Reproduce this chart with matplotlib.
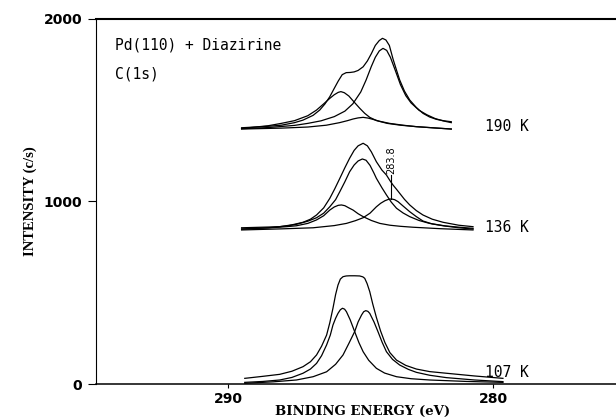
import matplotlib
matplotlib.use('Agg')
import matplotlib.pyplot as plt

# ── data: binding energy [eV] / intensity [c/s] ──────────────────────────────
# 190 K : envelope + three components
be190_sum = [289.50, 288.50, 288.00, 287.50, 287.18, 286.80, 286.55, 286.35, 286.17,
             286.00, 285.85, 285.70, 285.55, 285.40, 285.25, 285.10, 284.91, 284.75,
             284.60, 284.45, 284.30, 284.18, 284.05, 283.92, 283.78, 283.65, 283.53,
             283.35, 283.15, 282.90, 282.65, 282.40, 282.14, 281.85, 281.58]
i190_sum = [1404, 1412, 1418, 1432, 1446, 1472, 1501, 1535, 1574,
            1620, 1660, 1695, 1706, 1707, 1710, 1718, 1738, 1770,
            1810, 1855, 1882, 1894, 1885, 1855, 1780, 1720, 1666,
            1605, 1556, 1515, 1483, 1463, 1450, 1442, 1437]
be190_a = [289.50, 288.50, 287.50, 287.00, 286.50, 286.00, 285.60, 285.30, 285.00,
           284.80, 284.60, 284.45, 284.30, 284.16, 284.02, 283.88, 283.70, 283.50,
           283.30, 283.10, 282.80, 282.50, 282.20, 281.90, 281.58]
i190_a = [1399, 1405, 1417, 1428, 1442, 1465, 1495, 1535, 1600,
          1665, 1740, 1790, 1825, 1839, 1828, 1790, 1720, 1640,
          1580, 1540, 1500, 1475, 1455, 1442, 1432]
be190_b = [289.50, 288.50, 288.00, 287.50, 287.00, 286.67, 286.40, 286.17, 286.00,
           285.85, 285.75, 285.62, 285.45, 285.25, 285.04, 284.85, 284.66, 284.40,
           284.00, 283.50, 282.90, 282.20, 281.58]
i190_b = [1400, 1415, 1428, 1443, 1470, 1501, 1535, 1565, 1585,
          1598, 1602, 1596, 1578, 1545, 1511, 1483, 1461, 1443,
          1428, 1418, 1410, 1403, 1397]
be190_c = [289.50, 288.00, 287.00, 286.30, 285.80, 285.50, 285.29, 285.10, 284.91,
           284.72, 284.54, 284.30, 283.91, 283.40, 282.90, 282.20, 281.58]
i190_c = [1397, 1402, 1408, 1418, 1432, 1443, 1452, 1458, 1461,
          1457, 1450, 1440, 1428, 1418, 1410, 1403, 1397]

# 136 K
be136_sum = [289.50, 288.50, 288.06, 287.60, 287.18, 286.90, 286.67, 286.40, 286.17,
             285.98, 285.79, 285.60, 285.42, 285.25, 285.10, 284.91, 284.75, 284.60,
             284.41, 284.20, 284.03, 283.90, 283.78, 283.65, 283.53, 283.35, 283.15,
             282.90, 282.65, 282.30, 281.89, 281.30, 280.76]
i136_sum = [856, 860, 862, 872, 886, 903, 926, 965, 1017,
            1070, 1127, 1185, 1237, 1280, 1305, 1319, 1305, 1272,
            1218, 1172, 1145, 1115, 1090, 1067, 1045, 1012, 981,
            950, 926, 903, 886, 870, 862]
be136_a = [289.50, 288.50, 287.80, 287.43, 287.00, 286.67, 286.40, 286.17, 285.95,
           285.79, 285.60, 285.42, 285.25, 285.10, 284.94, 284.80, 284.65, 284.50,
           284.41, 284.20, 284.03, 283.85, 283.65, 283.40, 283.15, 282.80, 282.40,
           281.80, 281.20, 280.76]
i136_a = [849, 856, 866, 875, 892, 911, 936, 971, 1010,
          1054, 1108, 1163, 1200, 1222, 1233, 1226, 1198, 1155,
          1127, 1075, 1036, 997, 963, 937, 917, 896, 880,
          866, 858, 853]
be136_b = [289.50, 288.50, 287.80, 287.43, 287.00, 286.67, 286.40, 286.17, 286.00,
           285.85, 285.73, 285.60, 285.45, 285.29, 285.10, 284.91, 284.60, 284.28,
           283.90, 283.50, 283.03, 282.00, 280.76]
i136_b = [849, 855, 862, 867, 880, 899, 922, 953, 970,
          979, 981, 977, 965, 953, 933, 917, 896, 880,
          870, 864, 859, 851, 844]
be136_c = [289.50, 288.00, 286.80, 286.00, 285.54, 285.20, 284.91, 284.65, 284.41,
           284.25, 284.09, 283.95, 283.84, 283.72, 283.59, 283.40, 283.15, 282.90,
           282.65, 282.30, 281.89, 281.30, 280.76]
i136_c = [844, 850, 856, 868, 880, 895, 911, 936, 971,
          990, 1004, 1012, 1014, 1010, 999, 975, 944, 917,
          893, 877, 867, 856, 849]

# 107 K
be107_sum = [289.38, 288.70, 288.06, 287.60, 287.18, 286.90, 286.67, 286.48, 286.29,
             286.17, 286.05, 285.95, 285.86, 285.77, 285.67, 285.55, 285.42, 285.23,
             285.04, 284.92, 284.85, 284.76, 284.66, 284.55, 284.41, 284.25, 284.09,
             283.90, 283.65, 283.30, 282.90, 282.40, 281.77, 280.70, 279.63]
i107_sum = [31, 42, 53, 70, 95, 122, 159, 207, 268,
            335, 415, 490, 542, 575, 588, 592, 593, 593,
            592, 587, 579, 550, 506, 440, 365, 290, 228,
            172, 131, 102, 82, 68, 59, 44, 31]
be107_a = [289.38, 288.70, 288.06, 287.60, 287.18, 286.90, 286.67, 286.48, 286.29,
           286.15, 286.05, 285.95, 285.86, 285.77, 285.69, 285.61, 285.54, 285.40,
           285.23, 285.07, 284.91, 284.70, 284.41, 284.10, 283.65, 283.10, 282.40,
           281.00, 279.63]
i107_a = [9, 14, 22, 36, 59, 82, 113, 155, 214,
          268, 323, 360, 387, 407, 415, 410, 396, 352,
          287, 227, 177, 130, 86, 60, 40, 29, 22,
          14, 9]
be107_b = [289.38, 288.30, 287.43, 286.80, 286.29, 285.95, 285.67, 285.45, 285.23,
           285.10, 284.97, 284.89, 284.81, 284.73, 284.66, 284.50, 284.35, 284.19,
           284.03, 283.80, 283.53, 283.20, 282.90, 282.40, 281.77, 280.70, 279.63]
i107_b = [4, 12, 22, 40, 67, 108, 159, 222, 287,
          340, 378, 396, 402, 398, 387, 340, 287, 228,
          177, 135, 104, 80, 64, 48, 35, 22, 13]

temps = ['190 K', '136 K', '107 K']
temp_y = [1411, 857, 63]
peak_label = '283.8'
peak_be = 283.84

# ── figure ───────────────────────────────────────────────────────────────────
fig = plt.figure(figsize=(6.16, 4.2), dpi=100)
ax = fig.add_axes([0.1558, 0.0857, 0.8442, 0.8691])

curves = [(be190_sum, i190_sum), (be190_a, i190_a), (be190_b, i190_b),
          (be190_c, i190_c), (be136_sum, i136_sum), (be136_a, i136_a),
          (be136_b, i136_b), (be136_c, i136_c), (be107_sum, i107_sum),
          (be107_a, i107_a), (be107_b, i107_b)]
for be, inten in curves:
    ax.plot(be, inten, color='black', lw=0.9, solid_joinstyle='round')

for t, y in zip(temps, temp_y):
    ax.text(280.32, y, t, family='DejaVu Sans Mono', fontsize=10.5,
            ha='left', va='center')

# marker for the 283.8 eV component
ax.plot([peak_be, peak_be], [1014, 1146], color='black', lw=0.8)
ax.text(peak_be, 1148, peak_label, rotation=90, fontsize=7, ha='center', va='bottom')

ax.text(294.28, 1857, 'Pd(110) + Diazirine', family='DejaVu Sans Mono',
        fontsize=10.5, ha='left', va='center')
ax.text(294.28, 1698, 'C(1s)', family='DejaVu Sans Mono',
        fontsize=10.5, ha='left', va='center')

ax.set_xlim(295, 275.36)
ax.set_ylim(0, 2000)
ax.set_xticks([290, 280])
ax.set_yticks([0, 1000, 2000])
for lab in ax.get_xticklabels() + ax.get_yticklabels():
    lab.set_fontweight('bold')
    lab.set_fontsize(10)
ax.tick_params(axis='x', direction='out', length=3, width=0.8, pad=3)
ax.tick_params(axis='y', direction='out', length=6, width=0.8, pad=4)

ax.spines['right'].set_visible(False)
ax.spines['top'].set_linewidth(1.5)
ax.spines['bottom'].set_linewidth(1.1)
ax.spines['left'].set_linewidth(0.8)

ax.set_xlabel('BINDING ENERGY (eV)', family='DejaVu Serif', fontweight='bold',
              fontsize=9.5, va='top')
ax.xaxis.set_label_coords(0.512, -0.057)
ax.set_ylabel('INTENSITY (c/s)', family='Liberation Serif', fontweight='bold',
              fontsize=10.5)
ax.yaxis.set_label_coords(-0.113, 0.5)

fig.savefig('out.png', dpi=100)
